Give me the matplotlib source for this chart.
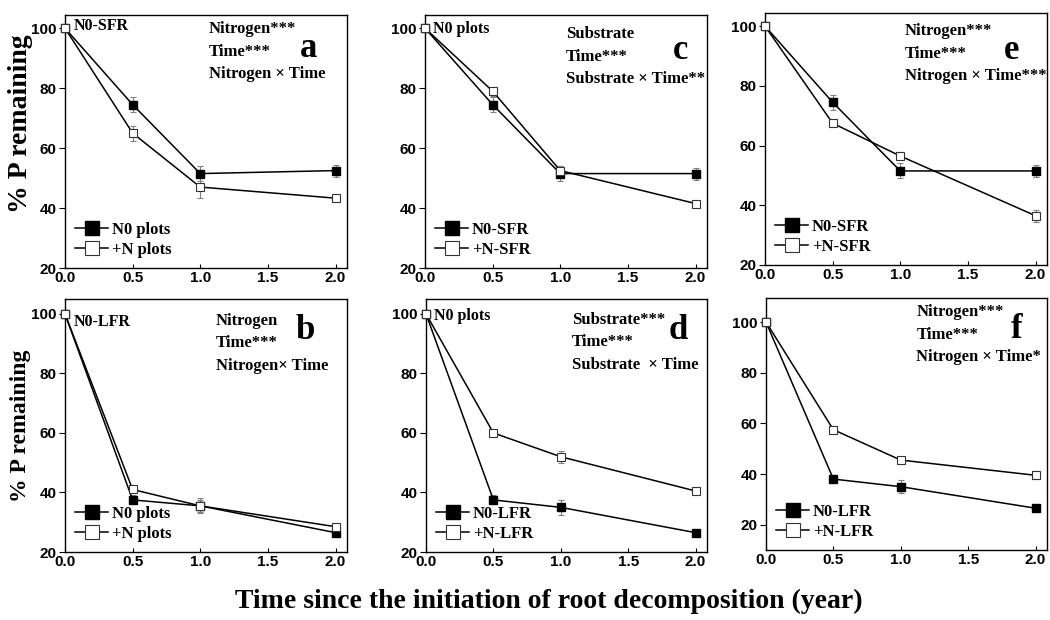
import numpy as np
import matplotlib
matplotlib.use('Agg')
import matplotlib.pyplot as plt

# time since initiation (year)
t = [0.0, 0.5, 1.0, 2.0]

# panel a: N0-SFR
a_n0 = [100, 74.5, 51.5, 52.5]
a_n0_err = [0, 2.5, 2.5, 2.0]
a_pn = [100, 65.0, 47.0, 43.3]
a_pn_err = [0, 2.5, 3.5, 1.0]

# panel b: N0-LFR
b_n0 = [100, 37.5, 35.5, 26.5]
b_n0_err = [0, 1.5, 2.0, 1.0]
b_pn = [100, 41.0, 35.5, 28.5]
b_pn_err = [0, 1.0, 2.5, 1.0]

# panel c: N0 plots
c_n0 = [100, 74.5, 51.5, 51.5]
c_n0_err = [0, 2.5, 2.5, 2.0]
c_pn = [100, 79.0, 52.5, 41.5]
c_pn_err = [0, 1.5, 1.5, 1.0]

# panel d: N0 plots
d_n0 = [100, 37.5, 35.0, 26.5]
d_n0_err = [0, 1.5, 2.5, 1.0]
d_pn = [100, 60.0, 52.0, 40.5]
d_pn_err = [0, 1.0, 2.0, 1.0]

# panel e
e_n0 = [100, 74.5, 51.5, 51.5]
e_n0_err = [0, 2.5, 2.5, 2.0]
e_pn = [100, 67.5, 56.5, 36.5]
e_pn_err = [0, 1.0, 1.5, 2.0]

# panel f
f_n0 = [100, 38.0, 35.0, 26.5]
f_n0_err = [0, 1.0, 2.5, 1.0]
f_pn = [100, 57.5, 45.5, 39.5]
f_pn_err = [0, 1.5, 1.0, 1.5]

SERIF = 'Liberation Serif'
SANS = 'Liberation Sans'

panels = [
    dict(rect=[65, 347, 15, 268], n0=a_n0, n0e=a_n0_err, pn=a_pn, pne=a_pn_err,
         labels=['N0 plots', '+N plots'], note='N0-SFR', note_y=0.99,
         stats=['Nitrogen***', 'Time***', 'Nitrogen \u00d7 Time'], sxy=(0.51, 0.975),
         letter='a', lxy=(0.862, 0.866), ylim=(20, 104.4), ylab=(20, 0.57)),
    dict(rect=[65, 347, 299, 552], n0=b_n0, n0e=b_n0_err, pn=b_pn, pne=b_pn_err,
         labels=['N0 plots', '+N plots'], note='N0-LFR', note_y=0.94,
         stats=['Nitrogen', 'Time***', 'Nitrogen\u00d7 Time'], sxy=(0.535, 0.945),
         letter='b', lxy=(0.85, 0.875), ylim=(20, 105), ylab=(17, 0.50)),
    dict(rect=[425, 707, 15, 268], n0=c_n0, n0e=c_n0_err, pn=c_pn, pne=c_pn_err,
         labels=['N0-SFR', '+N-SFR'], note='N0 plots', note_y=0.975,
         stats=['Substrate', 'Time***', 'Substrate \u00d7 Time**'], sxy=(0.50, 0.955),
         letter='c', lxy=(0.905, 0.86), ylim=(20, 104.4), ylab=None),
    dict(rect=[426, 707, 299, 552], n0=d_n0, n0e=d_n0_err, pn=d_pn, pne=d_pn_err,
         labels=['N0-LFR', '+N-LFR'], note='N0 plots', note_y=0.965,
         stats=['Substrate***', 'Time***', 'Substrate  \u00d7 Time'], sxy=(0.52, 0.95),
         letter='d', lxy=(0.897, 0.875), ylim=(20, 105), ylab=None),
    dict(rect=[765, 1047, 13, 265], n0=e_n0, n0e=e_n0_err, pn=e_pn, pne=e_pn_err,
         labels=['N0-SFR', '+N-SFR'], note=None, note_y=None,
         stats=['Nitrogen***', 'Time***', 'Nitrogen \u00d7 Time***'], sxy=(0.495, 0.96),
         letter='e', lxy=(0.876, 0.85), ylim=(20, 104.4), ylab=None),
    dict(rect=[766, 1047, 298, 550], n0=f_n0, n0e=f_n0_err, pn=f_pn, pne=f_pn_err,
         labels=['N0-LFR', '+N-LFR'], note=None, note_y=None,
         stats=['Nitrogen***', 'Time***', 'Nitrogen \u00d7 Time*'], sxy=(0.535, 0.975),
         letter='f', lxy=(0.89, 0.875), ylim=(10, 109.5), ylab=None),
]

W, H = 1050, 620
fig = plt.figure(figsize=(10.5, 6.2), dpi=100)

for p in panels:
    l, r, top, bot = p['rect']
    ax = fig.add_axes([l / W, 1 - bot / H, (r - l) / W, (bot - top) / H])
    ax.errorbar(t, p['n0'], yerr=p['n0e'], fmt='none', ecolor='#808080', elinewidth=0.8,
                capsize=2.5, capthick=0.8, zorder=2)
    ax.errorbar(t, p['pn'], yerr=p['pne'], fmt='none', ecolor='#808080', elinewidth=0.8,
                capsize=2.5, capthick=0.8, zorder=2)
    ax.plot(t, p['n0'], '-s', color='black', mfc='black', mec='black', ms=5.3, lw=1.1,
            label=p['labels'][0], zorder=3, clip_on=False)
    ax.plot(t, p['pn'], '-s', color='black', mfc='white', mec='#333333', mew=0.8, ms=5.3,
            lw=1.1, label=p['labels'][1], zorder=4, clip_on=False)
    ax.set_xlim(0, 2.085)
    ax.set_ylim(*p['ylim'])
    ax.set_xticks([0.0, 0.5, 1.0, 1.5, 2.0])
    ax.set_yticks([20, 40, 60, 80, 100])
    ax.tick_params(axis='y', direction='out', length=4, width=0.8, labelsize=11, pad=2)
    ax.tick_params(axis='x', direction='in', length=3, width=0.8, labelsize=11, pad=2)
    for lab in ax.get_xticklabels() + ax.get_yticklabels():
        lab.set_fontfamily(SANS)
        lab.set_fontweight('bold')
    for sp in ax.spines.values():
        sp.set_linewidth(1.0)
    if p['note']:
        ax.text(0.03, p['note_y'], p['note'], transform=ax.transAxes, ha='left', va='top',
                fontsize=11.5, fontweight='bold', family=SERIF)
    # one text per stats line, ~22.5 px apart
    step = 22.5 / (bot - top)
    for i, line in enumerate(p['stats']):
        ax.text(p['sxy'][0], p['sxy'][1] - i * step, line, transform=ax.transAxes,
                ha='left', va='top', fontsize=12, fontweight='bold', family=SERIF)
    ax.text(p['lxy'][0], p['lxy'][1], p['letter'], transform=ax.transAxes, ha='center',
            va='center', fontsize=25, fontweight='bold', family=SERIF)
    ax.legend(loc='lower left', frameon=False, markerscale=1.9, handlelength=2.0,
              handletextpad=0.2, borderaxespad=0.2, labelspacing=0.25,
              prop={'family': SERIF, 'weight': 'bold', 'size': 12})
    if p['ylab']:
        size, yc = p['ylab']
        ax.set_ylabel('% P remaining', fontsize=size, fontweight='bold', family=SERIF)
        ax.yaxis.label.set_verticalalignment('center')
        ax.yaxis.set_label_coords((21 - l) / (r - l), yc)

fig.text(549 / W, 1 - 601 / H, 'Time since the initiation of root decomposition (year)',
         ha='center', va='center', fontsize=20, fontweight='bold', family=SERIF)

fig.savefig('out.png', dpi=100, facecolor='white')
